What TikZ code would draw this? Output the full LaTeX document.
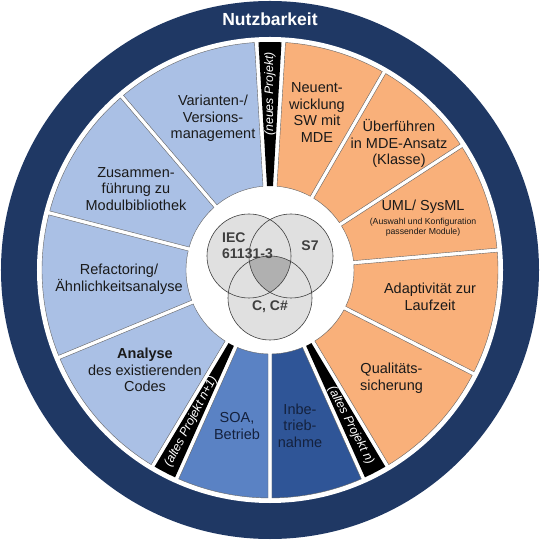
\documentclass[tikz,border=0pt]{standalone}
\usepackage{fontspec}
\setmainfont{Liberation Sans}
\definecolor{navy}{HTML}{1F3864}
\definecolor{lblue}{HTML}{AAC0E5}
\definecolor{mblue}{HTML}{5A82C4}
\definecolor{dblue}{HTML}{2F5597}
\definecolor{orng}{HTML}{F9B07A}
\definecolor{vgray}{HTML}{E0E0E0}
\definecolor{vdark}{HTML}{B0B0B0}
\definecolor{vtext}{HTML}{3F3F3F}
\definecolor{btext}{HTML}{14213D}
\definecolor{ktext}{HTML}{1A1A1A}
\newcommand{\mysector}[3]{%
  \path[#3] ({#1+asin(2/228)}:228pt)
    arc[start angle={#1+asin(2/228)}, end angle={#2-asin(2/228)}, radius=228pt]
    -- ({#2-asin(2/84)}:84pt)
    arc[start angle={#2-asin(2/84)}, end angle={#1+asin(2/84)}, radius=84pt]
    -- cycle;}
\begin{document}
\begin{tikzpicture}[x=1pt,y=1pt,
  secfill/.style={fill=#1, draw=gray!80!black, line width=0.4pt},
  stripfill/.style={fill=black},
  sectext/.style={align=center, font=\fontsize{14.5}{16.5}\selectfont, text=ktext, inner sep=0pt},
  striptext/.style={font=\fontsize{12.3}{13}\selectfont\itshape, text=white, inner sep=0pt},
  venntext/.style={font=\fontsize{14}{15.5}\selectfont\bfseries, text=vtext, inner sep=0pt},
  venncircle/.style={draw=vtext, line width=0.6pt}]
\useasboundingbox (-270,-270) rectangle (270,270);
% outer band
\fill[navy] (0,0) circle[radius=269pt];
\fill[white] (0,0) circle[radius=233pt];
\node[font=\fontsize{17.5}{20}\selectfont\bfseries, text=white, inner sep=0pt] (title) at (0,251) {Nutzbarkeit};
% orange sectors
\mysector{60}{86.6}{secfill=orng}
\mysector{33}{60}{secfill=orng}
\mysector{5}{33}{secfill=orng}
\mysector{-27}{5}{secfill=orng}
\mysector{-59.1}{-27}{secfill=orng}
% bottom sectors
\mysector{-90}{-65.9}{secfill=dblue}
\mysector{-114.1}{-90}{secfill=mblue}
% light blue sectors
\mysector{202.5}{239.1}{secfill=lblue}
\mysector{165.5}{202.5}{secfill=lblue}
\mysector{130.5}{165.5}{secfill=lblue}
\mysector{93.4}{130.5}{secfill=lblue}
% black strips
\mysector{86.6}{93.4}{stripfill}
\mysector{239.1}{245.9}{stripfill}
\mysector{294.1}{300.9}{stripfill}
% strip labels
\node[striptext, rotate=90] (sneu) at (90:176pt) {(neues Projekt)};
\node[striptext, rotate=62.5] (saltn1) at (242.5:171pt) {(altes Projekt n+1)};
\node[striptext, rotate=-62.5] (saltn) at (-62.5:175pt) {(altes Projekt n)};
% sector labels
\node[sectext] (vari) at (-57,151.5) {Varianten-/\\Versions-\\management};
\node[sectext] (zus) at (-134,81) {Zusammen-\\führung zu\\Modulbibliothek};
\node[sectext] (refa) at (-151,-9.5) {Refactoring/\\Ähnlichkeitsanalyse};
\node[sectext] (anal) at (-125,-100) {\bfseries Analyse\\des existierenden\\Codes};
\node[sectext, text=btext] (soa) at (-33,-156) {SOA,\\Betrieb};
\node[sectext, text=btext] (inbe) at (30,-155.5) {Inbe-\\trieb-\\nahme};
\node[sectext] (neu) at (47,157.5) {Neuent-\\wicklung\\SW mit\\MDE};
\node[sectext] (ueb) at (129,126.5) {Überführen\\in MDE-Ansatz\\(Klasse)};
\node[sectext] (uml) at (153,63) {UML/ SysML};
\node[sectext, font=\fontsize{8.7}{10}\selectfont] (umlsub) at (153,43) {(Auswahl und Konfiguration\\passender Module)};
\node[sectext] (adap) at (160,-27) {Adaptivität zur\\Laufzeit};
\node[sectext] (qual) at (121.5,-108.5) {Qualitäts-\\sicherung};
% Venn diagram
\fill[vgray] (-21,14) circle[radius=42pt];
\fill[vgray] (21,14) circle[radius=42pt];
\fill[vgray] (0,-28) circle[radius=42pt];
\begin{scope}
  \clip (-21,14) circle[radius=42pt];
  \clip (21,14) circle[radius=42pt];
  \fill[vdark] (0,-28) circle[radius=42pt];
\end{scope}
\draw[venncircle] (-21,14) circle[radius=42pt];
\draw[venncircle] (21,14) circle[radius=42pt];
\draw[venncircle] (0,-28) circle[radius=42pt];
\node[venntext, align=left, anchor=west] (iec) at (-48,24.5) {IEC\\61131-3};
\node[venntext] (s7) at (40,24) {S7};
\node[venntext] (cc) at (0,-37) {C, C\#};
\end{tikzpicture}
\end{document}
